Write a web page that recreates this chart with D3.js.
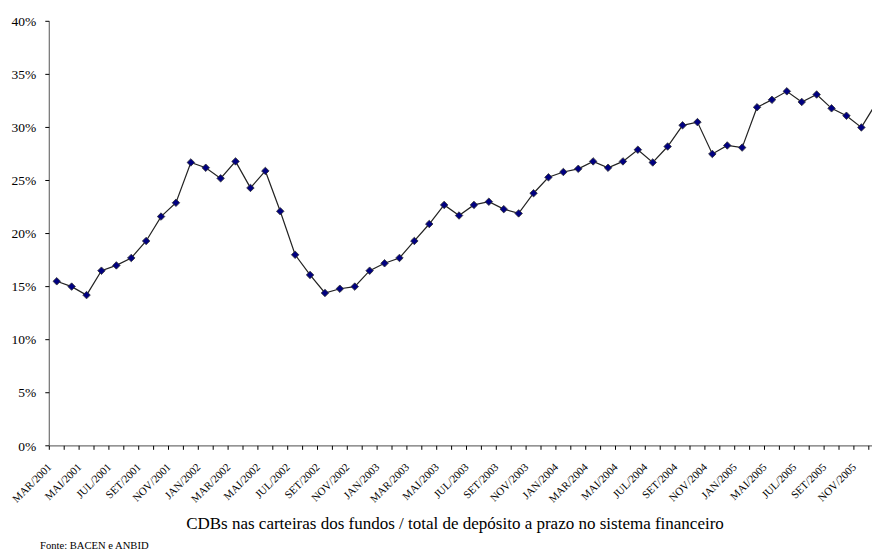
<!DOCTYPE html>
<html>
<head>
<meta charset="utf-8">
<script src="https://cdn.jsdelivr.net/npm/d3@7"></script>
<style>
  html, body { margin: 0; padding: 0; background: #fff; }
  svg { display: block; }
  text { font-family: "Liberation Serif", "Times New Roman", serif; fill: #000; }
</style>
</head>
<body>
<svg id="chart" width="872" height="552"></svg>
<script>
// Monthly categories (one month is absent between JAN/2005 and MAI/2005)
const months = [
  "MAR/2001","ABR/2001","MAI/2001","JUN/2001","JUL/2001","AGO/2001","SET/2001","OUT/2001","NOV/2001","DEZ/2001",
  "JAN/2002","FEV/2002","MAR/2002","ABR/2002","MAI/2002","JUN/2002","JUL/2002","AGO/2002","SET/2002","OUT/2002","NOV/2002","DEZ/2002",
  "JAN/2003","FEV/2003","MAR/2003","ABR/2003","MAI/2003","JUN/2003","JUL/2003","AGO/2003","SET/2003","OUT/2003","NOV/2003","DEZ/2003",
  "JAN/2004","FEV/2004","MAR/2004","ABR/2004","MAI/2004","JUN/2004","JUL/2004","AGO/2004","SET/2004","OUT/2004","NOV/2004","DEZ/2004",
  "JAN/2005","MAR/2005","MAI/2005","JUN/2005","JUL/2005","AGO/2005","SET/2005","OUT/2005","NOV/2005","DEZ/2005"
];

// Share of CDBs in fund portfolios over total time deposits (%)
const share = [
  15.5, 15.0, 14.2, 16.5, 17.0, 17.7, 19.3, 21.6, 22.9, 26.7,
  26.2, 25.2, 26.8, 24.3, 25.9, 22.1, 18.0, 16.1, 14.4, 14.8, 15.0, 16.5,
  17.2, 17.7, 19.3, 20.9, 22.7, 21.7, 22.7, 23.0, 22.3, 21.9, 23.8, 25.3,
  25.8, 26.1, 26.8, 26.2, 26.8, 27.9, 26.7, 28.2, 30.2, 30.5, 27.5, 28.3,
  28.1, 31.9, 32.6, 33.4, 32.4, 33.1, 31.8, 31.1, 30.0, 32.3
];

const yTicks = [0, 5, 10, 15, 20, 25, 30, 35, 40];

const svg = d3.select("#chart");

const x = d3.scaleBand()
  .domain(months)
  .range([49.3, 49.3 + 14.9 * months.length])
  .paddingInner(0).paddingOuter(0);

const y = d3.scaleLinear()
  .domain([0, 40])
  .range([445.8, 21.3]);

const cx = d => x(d) + x.bandwidth() / 2;

// Y axis
const yAxis = svg.append("g").attr("transform", "translate(49.3,0)");
yAxis.append("line")
  .attr("x1", 0).attr("x2", 0)
  .attr("y1", y(40)).attr("y2", y(0))
  .attr("stroke", "#707070").attr("stroke-width", 1.2);
yAxis.selectAll("line.tick").data(yTicks).join("line")
  .attr("class", "tick")
  .attr("x1", -4).attr("x2", 0)
  .attr("y1", d => y(d)).attr("y2", d => y(d))
  .attr("stroke", "#000").attr("stroke-width", 1);
yAxis.selectAll("text").data(yTicks).join("text")
  .attr("x", -13).attr("y", d => y(d))
  .attr("dy", "0.35em")
  .attr("text-anchor", "end")
  .style("font-size", "13.5px")
  .text(d => d + "%");

// X axis with ticks between categories
const xAxis = svg.append("g");
xAxis.append("line")
  .attr("x1", 49.3).attr("x2", 872)
  .attr("y1", y(0)).attr("y2", y(0))
  .attr("stroke", "#707070").attr("stroke-width", 1.2);
const tickPos = months.map(m => x(m)).concat([x(months[months.length - 1]) + x.bandwidth()]);
xAxis.selectAll("line.tick").data(tickPos).join("line")
  .attr("class", "tick")
  .attr("x1", d => d).attr("x2", d => d)
  .attr("y1", y(0)).attr("y2", y(0) + 4)
  .attr("stroke", "#000").attr("stroke-width", 1);
xAxis.selectAll("text").data(months.filter((m, i) => i % 2 === 0)).join("text")
  .attr("transform", d => `translate(${cx(d) - 4.5},${y(0) + 22}) rotate(-45)`)
  .attr("text-anchor", "end")
  .style("font-size", "11px")
  .text(d => d);

// Series line and diamond markers
const line = d3.line()
  .x((d, i) => cx(months[i]))
  .y(d => y(d));
svg.append("path")
  .datum(share)
  .attr("d", line)
  .attr("fill", "none")
  .attr("stroke", "#222")
  .attr("stroke-width", 1.2);

const diamond = d3.symbol().type(d3.symbolDiamond2).size(36);
svg.selectAll("path.marker").data(share).join("path")
  .attr("class", "marker")
  .attr("transform", (d, i) => `translate(${cx(months[i])},${y(d)})`)
  .attr("d", diamond)
  .attr("fill", "#000080")
  .attr("stroke", "#333")
  .attr("stroke-width", 0.8);

// Titles
svg.append("text")
  .attr("x", 455).attr("y", 529)
  .attr("text-anchor", "middle")
  .style("font-size", "17px")
  .text("CDBs nas carteiras dos fundos / total de depósito a prazo no sistema financeiro");

svg.append("text")
  .attr("x", 40).attr("y", 549)
  .style("font-size", "10.6px")
  .text("Fonte: BACEN e ANBID");
</script>
</body>
</html>
